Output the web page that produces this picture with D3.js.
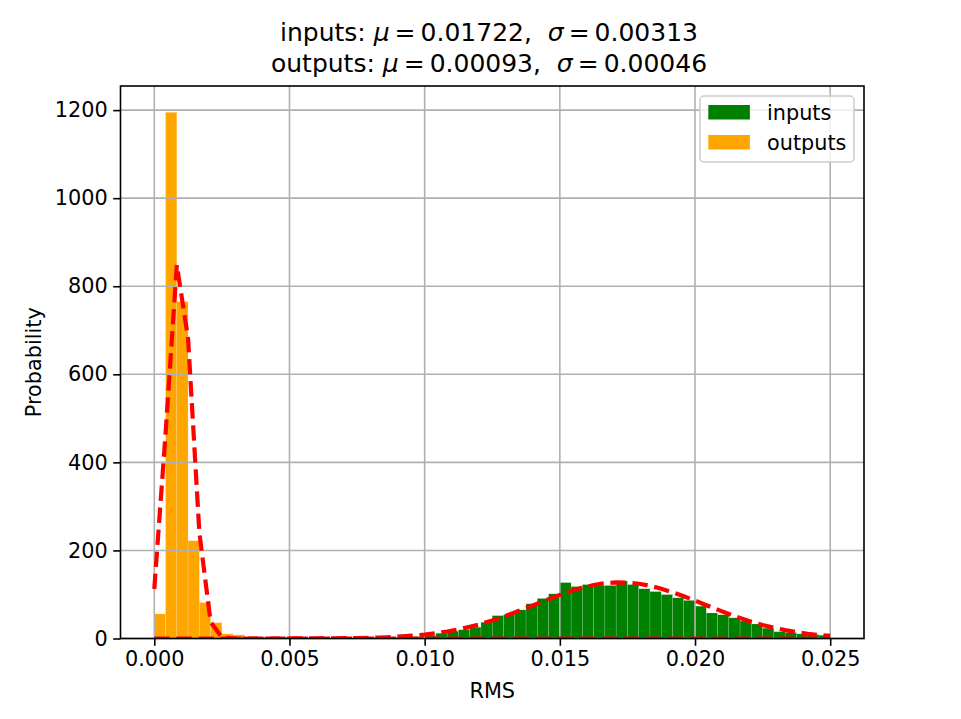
<!DOCTYPE html>
<html>
<head>
<meta charset="utf-8">
<script src="https://cdn.jsdelivr.net/npm/d3@7"></script>
<style>
  body { margin: 0; background: #fff; }
  svg { display: block; font-family: "DejaVu Sans", sans-serif; }
</style>
</head>
<body>
<div id="chart"></div>
<script>
// histogram bins: 60 equal bins from 0 to 0.025
const binLo = 0;
const binHi = 0.025;
const binCount = 60;

// density per bin
const inputsDensity = [
  0, 0, 0, 0, 0, 0, 0, 0, 0, 0,
  0, 0, 0, 0, 0, 0, 0, 0, 0, 0.3,
  0.5, 1, 2, 4, 7, 12, 16.6, 20, 25.7, 37,
  52, 54, 65, 79, 91, 101.5, 127, 118, 122.5, 120,
  120.5, 130.5, 122.5, 113, 106.6, 99.8, 92.5, 86.5, 73.5, 58,
  54, 47, 40, 33, 23.5, 15.5, 13.5, 10.5, 9, 7.5
];
const outputsDensity = [
  56, 1195, 765, 222, 81.7, 36, 10.6, 8.3, 2, 1,
  0.5, 0.3, 0, 0, 0, 0, 0, 0, 0, 0,
  0, 0, 0, 0, 0, 0, 0, 0, 0, 0,
  0, 0, 0, 0, 0, 0, 0, 0, 0, 0,
  0, 0, 0, 0, 0, 0, 0, 0, 0, 0,
  0, 0, 0, 0, 0, 0, 0, 0, 0, 0
];

// fitted curves (red dashed), one value per bin edge
const inputsFit = [
  0, 0, 0, 0, 0, 0, 0, 0, 0, 0.01,
  0.02, 0.04, 0.06, 0.11, 0.17, 0.27, 0.43, 0.67, 1.03, 1.54,
  2.27, 3.28, 4.66, 6.5, 8.91, 12.01, 15.89, 20.68, 26.42, 33.16,
  40.89, 49.53, 58.96, 68.94, 79.2, 89.39, 99.12, 107.97, 115.55, 121.48,
  125.48, 127.34, 126.95, 124.34, 119.65, 113.1, 105.05, 95.85, 85.92, 75.66,
  65.47, 55.65, 46.46, 38.12, 30.72, 24.33, 18.92, 14.46, 10.86, 8.01,
  5.81
];
const outputsFit = [
  112.4, 465.4, 848.4, 680.9, 240.6, 37.4, 2.6, 0.1, 0, 0,
  0, 0, 0, 0, 0, 0, 0, 0, 0, 0,
  0, 0, 0, 0, 0, 0, 0, 0, 0, 0,
  0, 0, 0, 0, 0, 0, 0, 0, 0, 0,
  0, 0, 0, 0, 0, 0, 0, 0, 0, 0,
  0, 0, 0, 0, 0, 0, 0, 0, 0, 0,
  0
];

const seriesNames = ['inputs', 'outputs'];
const seriesColors = ['#008000', '#ffa500'];
const xTicks = [0, 0.005, 0.01, 0.015, 0.02, 0.025];
const yTicks = [0, 200, 400, 600, 800, 1000, 1200];
const titleLines = [
  ['inputs: ', '0.01722', '0.00313'],
  ['outputs: ', '0.00093', '0.00046']
];
const xLabel = 'RMS';
const yLabel = 'Probability';

const W = 961, H = 719;
const m = { left: 120.5, right: 864, top: 86, bottom: 638.5 };

const binW = (binHi - binLo) / binCount;
const edges = d3.range(binCount + 1).map(i => binLo + i * binW);

const xPad = (binHi - binLo) * 0.05;
const x = d3.scaleLinear().domain([binLo - xPad, binHi + xPad]).range([m.left, m.right]);
const yMax = d3.max([...inputsDensity, ...outputsDensity, ...inputsFit, ...outputsFit]) * 1.05;
const y = d3.scaleLinear().domain([0, yMax]).range([m.bottom, m.top]);

const svg = d3.select('#chart').append('svg')
  .attr('width', W)
  .attr('height', H);

svg.append('defs').append('clipPath').attr('id', 'plot')
  .append('rect')
  .attr('x', m.left).attr('y', m.top)
  .attr('width', m.right - m.left).attr('height', m.bottom - m.top);

// bars
[inputsDensity, outputsDensity].forEach((dens, k) => {
  svg.append('g')
    .selectAll('rect')
    .data(dens.map((v, i) => ({ v, i })).filter(d => d.v > 0))
    .join('rect')
    .attr('x', d => x(edges[d.i]))
    .attr('width', d => x(edges[d.i + 1]) - x(edges[d.i]))
    .attr('y', d => y(d.v))
    .attr('height', d => y(0) - y(d.v))
    .attr('fill', seriesColors[k])
    .attr('stroke', 'rgba(255,255,255,0.3)')
    .attr('stroke-width', 0.5);
});

// grid (drawn over bars, like matplotlib)
const grid = svg.append('g').attr('stroke', '#b0b0b0').attr('stroke-width', 1.6);
xTicks.forEach(t => {
  grid.append('line').attr('x1', x(t)).attr('x2', x(t)).attr('y1', m.top).attr('y2', m.bottom);
});
yTicks.forEach(t => {
  grid.append('line').attr('x1', m.left).attr('x2', m.right).attr('y1', y(t)).attr('y2', y(t));
});

// fitted curves
const line = d3.line().x((d, i) => x(edges[i])).y(d => y(d));
[inputsFit, outputsFit].forEach(f => {
  svg.append('path')
    .attr('clip-path', 'url(#plot)')
    .attr('d', line(f))
    .attr('fill', 'none')
    .attr('stroke', '#ff0000')
    .attr('stroke-width', 4.2)
    .attr('stroke-dasharray', '15.4,6.7');
});

// axes
const xAxis = svg.append('g')
  .attr('transform', `translate(0,${m.bottom})`)
  .call(d3.axisBottom(x).tickValues(xTicks).tickFormat(d3.format('.3f')).tickSizeOuter(0).tickSize(7.3).tickPadding(5.5));
const yAxis = svg.append('g')
  .attr('transform', `translate(${m.left},0)`)
  .call(d3.axisLeft(y).tickValues(yTicks).tickFormat(d3.format('d')).tickSizeOuter(0).tickSize(7.3).tickPadding(5.5));
[xAxis, yAxis].forEach(g => {
  g.select('.domain').remove();
  g.selectAll('line').attr('stroke', '#000').attr('stroke-width', 1.6);
  g.selectAll('text').attr('fill', '#000').attr('font-size', 20.8)
    .attr('font-family', '"DejaVu Sans", sans-serif');
});

// spines
svg.append('rect')
  .attr('x', m.left).attr('y', m.top)
  .attr('width', m.right - m.left).attr('height', m.bottom - m.top)
  .attr('fill', 'none').attr('stroke', '#000').attr('stroke-width', 1.6);

// labels
svg.append('text')
  .attr('x', (m.left + m.right) / 2).attr('y', 698)
  .attr('text-anchor', 'middle').attr('font-size', 20.8)
  .text(xLabel);
svg.append('text')
  .attr('transform', `translate(41,${(m.top + m.bottom) / 2}) rotate(-90)`)
  .attr('text-anchor', 'middle').attr('font-size', 20.8)
  .text(yLabel);

// title (mathtext-like spacing)
titleLines.forEach((parts, li) => {
  const t = svg.append('text')
    .attr('x', 489).attr('y', 41 + li * 31)
    .attr('text-anchor', 'middle').attr('font-size', 25)
    .attr('xml:space', 'preserve');
  t.append('tspan').text(parts[0]);
  t.append('tspan').attr('font-style', 'italic').text('μ');
  t.append('tspan').text('\u2009=\u2009' + parts[1] + ',\u00a0\u00a0');
  t.append('tspan').attr('font-style', 'italic').text('σ');
  t.append('tspan').text('\u2009=\u2009' + parts[2]);
});

// legend
const lg = svg.append('g').attr('transform', 'translate(700,96)');
lg.append('rect')
  .attr('width', 154).attr('height', 66).attr('rx', 4)
  .attr('fill', 'rgba(255,255,255,0.8)').attr('stroke', '#cccccc').attr('stroke-width', 1.5);
seriesNames.forEach((name, i) => {
  lg.append('rect')
    .attr('x', 8.3).attr('y', 9 + i * 30).attr('width', 41.6).attr('height', 14.5)
    .attr('fill', seriesColors[i]);
  lg.append('text')
    .attr('x', 67).attr('y', 23.5 + i * 30)
    .attr('font-size', 20.8)
    .text(name);
});
</script>
</body>
</html>
